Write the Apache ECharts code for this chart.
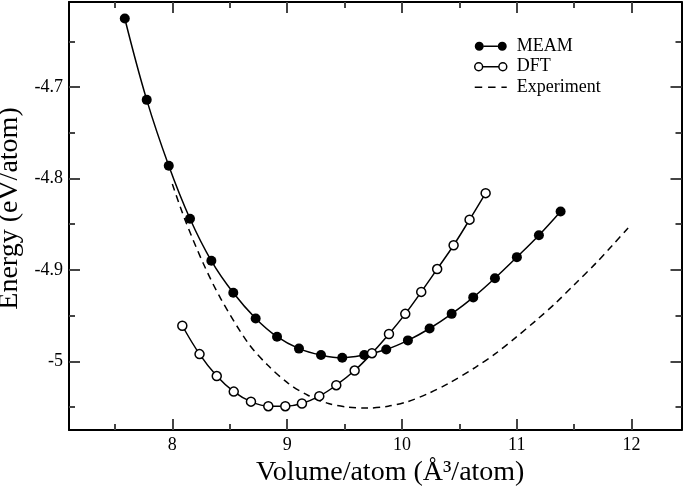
<!DOCTYPE html>
<html>
<head>
<meta charset="utf-8">
<script src="https://cdn.jsdelivr.net/npm/echarts@6/dist/echarts.min.js"></script>
<style>
  html, body { margin: 0; padding: 0; background: #fff; }
  #chart { width: 684px; height: 492px; }
</style>
</head>
<body>
<div id="chart"></div>
<script>
// data
var meamVolume = [7.586, 7.777, 7.969, 8.154, 8.340, 8.531, 8.726, 8.912, 9.103, 9.295, 9.480,
  9.672, 9.863, 10.052, 10.241, 10.433, 10.621, 10.810, 11.001, 11.193, 11.382];
var meamEnergy = [-4.625, -4.714, -4.786, -4.844, -4.890, -4.925, -4.953, -4.973, -4.986, -4.993, -4.996,
  -4.993, -4.987, -4.977, -4.964, -4.948, -4.930, -4.909, -4.886, -4.862, -4.836];

var dftVolume = [8.087, 8.237, 8.387, 8.535, 8.685, 8.836, 8.984, 9.129, 9.280, 9.428,
  9.588, 9.739, 9.887, 10.029, 10.168, 10.307, 10.450, 10.589, 10.729];
var dftEnergy = [-4.961, -4.992, -5.016, -5.033, -5.044, -5.049, -5.049, -5.046, -5.038, -5.026,
  -5.010, -4.991, -4.970, -4.948, -4.924, -4.899, -4.873, -4.845, -4.816];

var exptVolume = [8.00, 8.11, 8.27, 8.42, 8.66, 8.83, 9.01, 9.18, 9.36, 9.53, 9.70, 9.88,
  10.05, 10.23, 10.40, 10.64, 10.82, 10.99, 11.17, 11.34, 11.51, 11.69, 11.83, 11.97];
var exptEnergy = [-4.806, -4.845, -4.893, -4.931, -4.980, -5.004, -5.024, -5.037, -5.046, -5.050, -5.051, -5.049,
  -5.044, -5.035, -5.0245, -5.0065, -4.991, -4.974, -4.955, -4.936, -4.915, -4.8925, -4.8735, -4.854];

var xMajor = [8, 9, 10, 11, 12];
var xMinor = [7.5, 8.5, 9.5, 10.5, 11.5];
var yMajor = [-5, -4.9, -4.8, -4.7];
var yMinor = [-5.05, -4.95, -4.85, -4.75, -4.65];

var xMin = 7.1, xMax = 12.435;
var yMin = -5.075, yMax = -4.607;

var FONT = 'Liberation Serif';

function pairs(xs, ys) {
  return xs.map(function (x, i) { return [x, ys[i]]; });
}

// one axis of the frame: major or minor ticks on one side
function frameAxis(pos, min, max, ticks, major, showLine, labels) {
  return {
    type: 'value',
    position: pos,
    min: min,
    max: max,
    axisLine: { show: showLine, lineStyle: { color: '#000', width: 2 } },
    axisTick: {
      show: true,
      inside: true,
      length: major ? 11 : 6,
      customValues: ticks,
      lineStyle: { color: '#444', width: 2 }
    },
    axisLabel: labels ? {
      show: true,
      customValues: ticks,
      fontFamily: FONT,
      fontSize: 18,
      color: '#000',
      margin: 6
    } : { show: false },
    splitLine: { show: false }
  };
}

var xBottom = frameAxis('bottom', xMin, xMax, xMajor, true, true, true);
xBottom.name = 'Volume/atom (Å³/atom)';
xBottom.nameLocation = 'middle';
xBottom.nameGap = 28;
xBottom.nameTextStyle = { fontFamily: FONT, fontSize: 28, color: '#000', padding: [0, 0, 0, 30] };

var yLeft = frameAxis('left', yMin, yMax, yMajor, true, true, true);
yLeft.name = 'Energy (eV/atom)';
yLeft.nameLocation = 'middle';
yLeft.nameGap = 37;
yLeft.nameTextStyle = { fontFamily: FONT, fontSize: 28, color: '#000', padding: [0, 0, 0, 15] };

var meamIcon = 'path://M0,4.5A4.5,4.5 0 1,0 9,4.5A4.5,4.5 0 1,0 0,4.5Z' +
  'M9,3.8L23,3.8L23,5.2L9,5.2Z' +
  'M23,4.5A4.5,4.5 0 1,0 32,4.5A4.5,4.5 0 1,0 23,4.5Z';
var dftIcon = 'path://M0.75,4.5A3.75,3.75 0 1,0 8.25,4.5A3.75,3.75 0 1,0 0.75,4.5Z' +
  'M8.25,4.5L23.75,4.5' +
  'M23.75,4.5A3.75,3.75 0 1,0 31.25,4.5A3.75,3.75 0 1,0 23.75,4.5Z';
var dashIcon = 'path://M0,0L7,0L7,1.4L0,1.4Z M12.5,0L19.5,0L19.5,1.4L12.5,1.4Z M25,0L30,0L30,1.4L25,1.4Z';

var chart = echarts.init(document.getElementById('chart'));
chart.setOption({
  animation: false,
  backgroundColor: '#fff',
  grid: { left: 69, right: 2.5, top: 2, bottom: 62, containLabel: false, outerBoundsMode: 'none' },
  legend: {
    orient: 'vertical',
    left: 469,
    top: 31,
    itemWidth: 32,
    itemHeight: 9,
    itemGap: 0,
    textStyle: { fontFamily: FONT, fontSize: 18, color: '#000', lineHeight: 20.5, padding: [0, 0, 0, 5] },
    data: [
      { name: 'MEAM', icon: meamIcon, itemStyle: { color: '#000', borderWidth: 0 } },
      { name: 'DFT', icon: dftIcon, itemStyle: { color: '#fff', borderColor: '#000', borderWidth: 1.5 } },
      { name: 'Experiment', icon: dashIcon, itemStyle: { color: '#000', borderWidth: 0 } }
    ]
  },
  xAxis: [
    xBottom,
    frameAxis('bottom', xMin, xMax, xMinor, false, false, false),
    frameAxis('top', xMin, xMax, xMajor, true, true, false),
    frameAxis('top', xMin, xMax, xMinor, false, false, false)
  ],
  yAxis: [
    yLeft,
    frameAxis('left', yMin, yMax, yMinor, false, false, false),
    frameAxis('right', yMin, yMax, yMajor, true, true, false),
    frameAxis('right', yMin, yMax, yMinor, false, false, false)
  ],
  series: [
    {
      name: 'MEAM',
      type: 'line',
      data: pairs(meamVolume, meamEnergy),
      smooth: 0.4,
      symbol: 'circle',
      symbolSize: 10,
      itemStyle: { color: '#000' },
      lineStyle: { color: '#000', width: 1.5 },
      z: 3
    },
    {
      name: 'DFT',
      type: 'line',
      data: pairs(dftVolume, dftEnergy),
      smooth: 0.4,
      symbol: 'circle',
      symbolSize: 9,
      itemStyle: { color: '#fff', borderColor: '#000', borderWidth: 1.5 },
      lineStyle: { color: '#000', width: 1.5 },
      z: 4
    },
    {
      name: 'Experiment',
      type: 'line',
      data: pairs(exptVolume, exptEnergy),
      smooth: 0.3,
      showSymbol: false,
      symbol: 'none',
      itemStyle: { color: '#000' },
      lineStyle: { color: '#000', width: 1.5, type: [7, 5] },
      z: 2
    }
  ]
});
</script>
</body>
</html>
